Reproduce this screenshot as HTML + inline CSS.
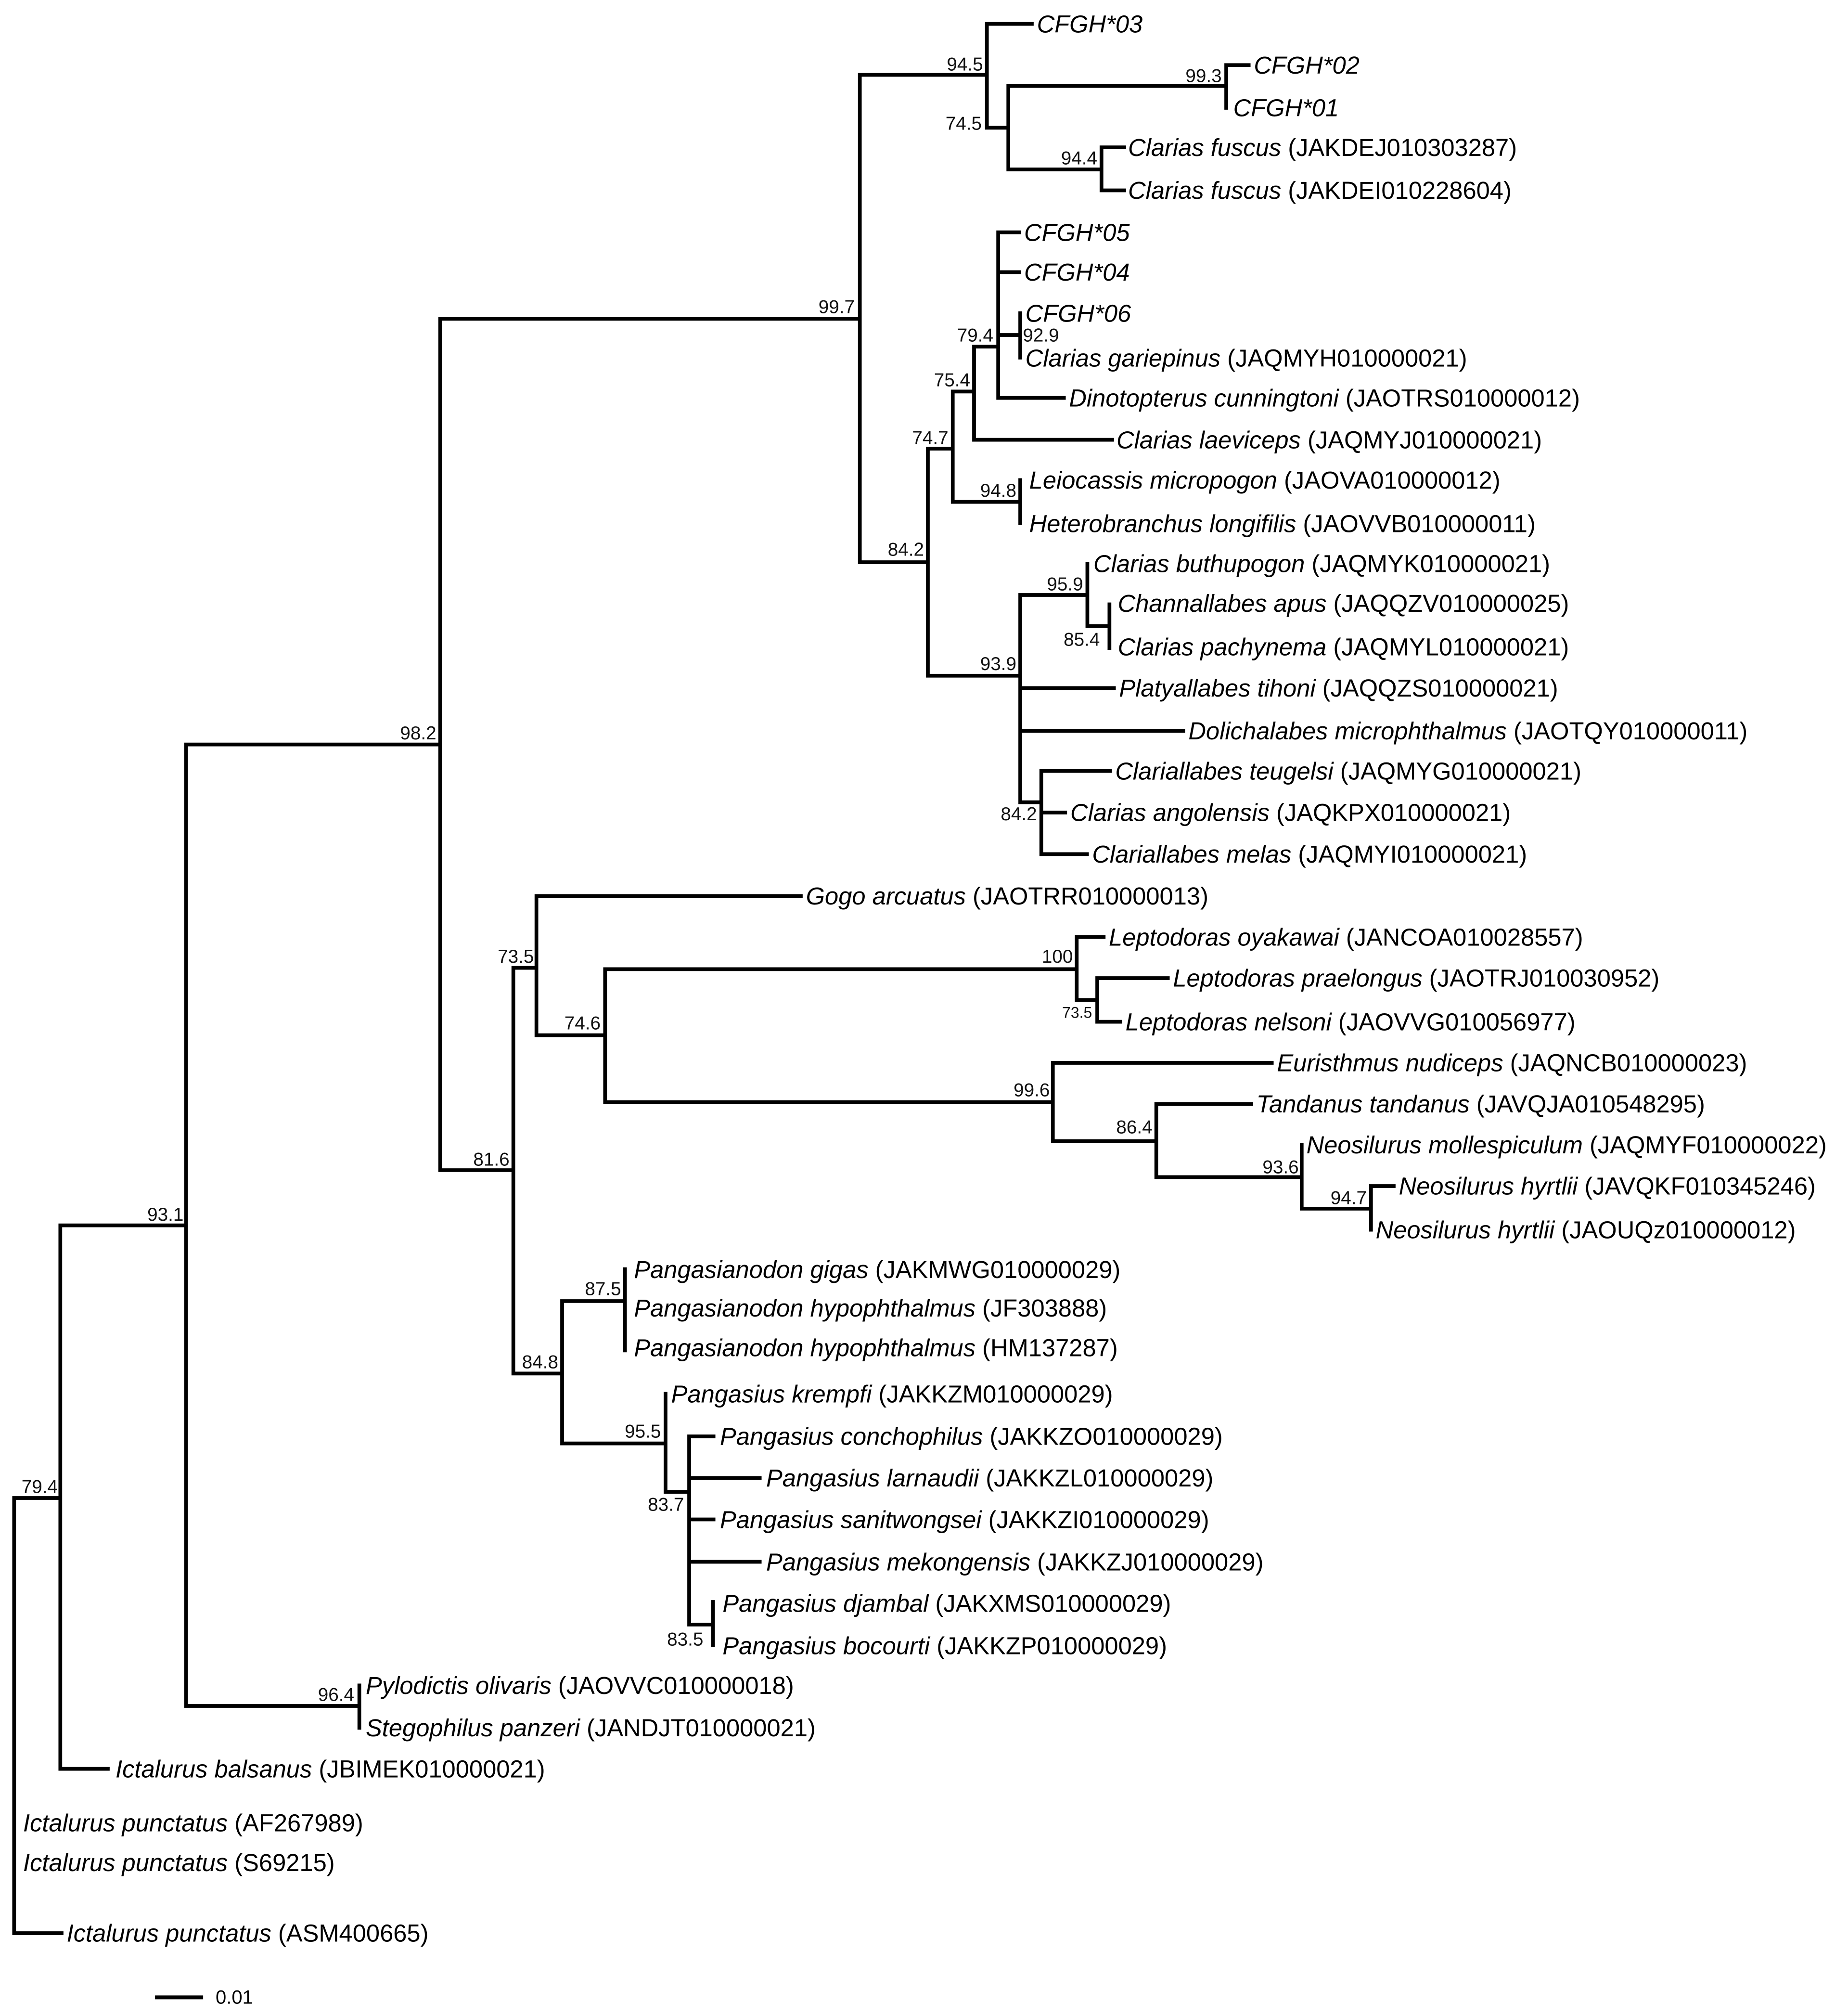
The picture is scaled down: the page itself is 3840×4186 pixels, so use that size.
<!DOCTYPE html>
<html><head><meta charset="utf-8"><style>
html,body{margin:0;padding:0;background:#fff;}
svg{display:block;}
.t{font-family:"Liberation Sans",Arial,sans-serif;font-size:19px;font-style:italic;fill:#000;}
.t tspan{font-style:normal;}
.b{font-family:"Liberation Sans",Arial,sans-serif;font-size:14.5px;fill:#111;text-anchor:end;}
.s{font-size:12px;}
</style></head><body>
<svg width="3840" height="4186" viewBox="0 0 1440 1569.75" xmlns="http://www.w3.org/2000/svg">
<rect width="1440" height="1570" fill="#fff"/>
<path fill="none" stroke="#000" stroke-width="2.9" stroke-linecap="square" d="
M11 1167V1506 M11 1167H47 M11 1506H48
M47 954.6V1378 M47 954.6H145 M47 1378H84
M145 580V1329 M145 580H343 M145 1329H280 M280 1313V1346
M343 248.3V911.6 M343 248.3H670 M343 911.6H400
M670 58.3V438 M670 58.3H769 M670 438H723
M769 18.6V99.5 M769 18.6H804 M769 99.5H785.7
M785.7 67V132 M785.7 67H955.5 M785.7 132H858.3
M955.5 50.7V84 M955.5 50.7H973
M858.3 114.8V148.3 M858.3 114.8H876 M858.3 148.3H876
M723 349.5V526.4 M723 349.5H742.4 M723 526.4H795
M742.4 305V391 M742.4 305H759 M742.4 391H795
M795 374V407.6
M759 270V342.6 M759 270H777.8 M759 342.6H866.6
M777.8 181V310 M777.8 181H794 M777.8 212H794 M777.8 261H795 M777.8 310H829
M795 244V278.6
M795 463.5V625 M795 463.5H847.3 M795 536H868 M795 569.4H922 M795 625H811.4
M847.3 439.4V487.8 M847.3 487.8H864.5 M864.5 470.8V504.8
M811.4 600.6V665.4 M811.4 600.6H865 M811.4 633H830 M811.4 665.4H847
M400 754V1070 M400 754H418 M400 1070H438
M418 698V806.5 M418 698H624 M418 806.5H471.5
M471.5 755V858.6 M471.5 755H839 M471.5 858.6H820.4
M839 730V779 M839 730H860 M839 779H855
M855 762V796 M855 762H910 M855 796H873
M820.4 828V889 M820.4 828H991 M820.4 889H901
M901 860V917 M901 860H975 M901 917H1014.3
M1014.3 891.8V941.6 M1014.3 941.6H1068.3
M1068.3 924V958 M1068.3 924H1086
M438 1013.6V1124.5 M438 1013.6H487 M438 1124.5H518.6
M487 988.8V1052
M518.6 1085.8V1162.2 M518.6 1162.2H537
M537 1119V1265.6 M537 1119H556 M537 1151.4H592 M537 1183.7H556 M537 1216.7H592 M537 1265.6H555.6
M555.6 1248V1281.6
"/>
<path stroke="#000" stroke-width="3" d="M120.8 1556H158.3"/>
<text x="168" y="1561" font-family="Liberation Sans,Arial,sans-serif" font-size="15">0.01</text>

<g class="t">
<text x="808" y="18.6" dy="0.35em">CFGH*03</text>
<text x="977" y="50.7" dy="0.35em">CFGH*02</text>
<text x="961" y="84" dy="0.35em">CFGH*01</text>
<text x="879" y="114.8" dy="0.35em">Clarias fuscus<tspan> (JAKDEJ010303287)</tspan></text>
<text x="879" y="148.3" dy="0.35em">Clarias fuscus<tspan> (JAKDEI010228604)</tspan></text>
<text x="798" y="181" dy="0.35em">CFGH*05</text>
<text x="798" y="212" dy="0.35em">CFGH*04</text>
<text x="799" y="244" dy="0.35em">CFGH*06</text>
<text x="799" y="279" dy="0.35em">Clarias gariepinus<tspan> (JAQMYH010000021)</tspan></text>
<text x="833" y="310" dy="0.35em">Dinotopterus cunningtoni<tspan> (JAOTRS010000012)</tspan></text>
<text x="870" y="342.6" dy="0.35em">Clarias laeviceps<tspan> (JAQMYJ010000021)</tspan></text>
<text x="802" y="374" dy="0.35em">Leiocassis micropogon<tspan> (JAOVA010000012)</tspan></text>
<text x="802" y="408" dy="0.35em">Heterobranchus longifilis<tspan> (JAOVVB010000011)</tspan></text>
<text x="852" y="439" dy="0.35em">Clarias buthupogon<tspan> (JAQMYK010000021)</tspan></text>
<text x="871" y="470" dy="0.35em">Channallabes apus<tspan> (JAQQZV010000025)</tspan></text>
<text x="871" y="504" dy="0.35em">Clarias pachynema<tspan> (JAQMYL010000021)</tspan></text>
<text x="872" y="536" dy="0.35em">Platyallabes tihoni<tspan> (JAQQZS010000021)</tspan></text>
<text x="926" y="569.4" dy="0.35em">Dolichalabes microphthalmus<tspan> (JAOTQY010000011)</tspan></text>
<text x="869" y="600.6" dy="0.35em">Clariallabes teugelsi<tspan> (JAQMYG010000021)</tspan></text>
<text x="834" y="633" dy="0.35em">Clarias angolensis<tspan> (JAQKPX010000021)</tspan></text>
<text x="851" y="665.4" dy="0.35em">Clariallabes melas<tspan> (JAQMYI010000021)</tspan></text>
<text x="628" y="698" dy="0.35em">Gogo arcuatus<tspan> (JAOTRR010000013)</tspan></text>
<text x="864" y="730" dy="0.35em">Leptodoras oyakawai<tspan> (JANCOA010028557)</tspan></text>
<text x="914" y="762" dy="0.35em">Leptodoras praelongus<tspan> (JAOTRJ010030952)</tspan></text>
<text x="877" y="796" dy="0.35em">Leptodoras nelsoni<tspan> (JAOVVG010056977)</tspan></text>
<text x="995" y="828" dy="0.35em">Euristhmus nudiceps<tspan> (JAQNCB010000023)</tspan></text>
<text x="979" y="860" dy="0.35em">Tandanus tandanus<tspan> (JAVQJA010548295)</tspan></text>
<text x="1018" y="891.8" dy="0.35em">Neosilurus mollespiculum<tspan> (JAQMYF010000022)</tspan></text>
<text x="1090" y="924" dy="0.35em">Neosilurus hyrtlii<tspan> (JAVQKF010345246)</tspan></text>
<text x="1072" y="958" dy="0.35em">Neosilurus hyrtlii<tspan> (JAOUQz010000012)</tspan></text>
<text x="494" y="989" dy="0.35em">Pangasianodon gigas<tspan> (JAKMWG010000029)</tspan></text>
<text x="494" y="1019" dy="0.35em">Pangasianodon hypophthalmus<tspan> (JF303888)</tspan></text>
<text x="494" y="1050" dy="0.35em">Pangasianodon hypophthalmus<tspan> (HM137287)</tspan></text>
<text x="523" y="1086" dy="0.35em">Pangasius krempfi<tspan> (JAKKZM010000029)</tspan></text>
<text x="561" y="1119" dy="0.35em">Pangasius conchophilus<tspan> (JAKKZO010000029)</tspan></text>
<text x="597" y="1151.4" dy="0.35em">Pangasius larnaudii<tspan> (JAKKZL010000029)</tspan></text>
<text x="561" y="1183.7" dy="0.35em">Pangasius sanitwongsei<tspan> (JAKKZI010000029)</tspan></text>
<text x="597" y="1216.7" dy="0.35em">Pangasius mekongensis<tspan> (JAKKZJ010000029)</tspan></text>
<text x="563" y="1249" dy="0.35em">Pangasius djambal<tspan> (JAKXMS010000029)</tspan></text>
<text x="563" y="1282" dy="0.35em">Pangasius bocourti<tspan> (JAKKZP010000029)</tspan></text>
<text x="285" y="1313" dy="0.35em">Pylodictis olivaris<tspan> (JAOVVC010000018)</tspan></text>
<text x="285" y="1346" dy="0.35em">Stegophilus panzeri<tspan> (JANDJT010000021)</tspan></text>
<text x="90" y="1378" dy="0.35em">Ictalurus balsanus<tspan> (JBIMEK010000021)</tspan></text>
<text x="18" y="1420" dy="0.35em">Ictalurus punctatus<tspan> (AF267989)</tspan></text>
<text x="18" y="1451" dy="0.35em">Ictalurus punctatus<tspan> (S69215)</tspan></text>
<text x="52" y="1506" dy="0.35em">Ictalurus punctatus<tspan> (ASM400665)</tspan></text>
</g>

<g class="b">
<text x="766" y="55">94.5</text>
<text x="765" y="101">74.5</text>
<text x="952" y="64">99.3</text>
<text x="855" y="128">94.4</text>
<text x="666" y="244">99.7</text>
<text x="774" y="266">79.4</text>
<text x="797" y="266" text-anchor="start">92.9</text>
<text x="756" y="301">75.4</text>
<text x="739" y="346">74.7</text>
<text x="792" y="387">94.8</text>
<text x="720" y="433">84.2</text>
<text x="844" y="460">95.9</text>
<text x="857" y="503">85.4</text>
<text x="792" y="522">93.9</text>
<text x="808" y="639">84.2</text>
<text x="340" y="576">98.2</text>
<text x="416" y="750">73.5</text>
<text x="836" y="750">100</text>
<text x="851" y="793" class="b s">73.5</text>
<text x="468" y="802">74.6</text>
<text x="818" y="854">99.6</text>
<text x="898" y="883">86.4</text>
<text x="397" y="908">81.6</text>
<text x="1012" y="914">93.6</text>
<text x="1065" y="938">94.7</text>
<text x="143" y="951">93.1</text>
<text x="484" y="1009">87.5</text>
<text x="435" y="1066">84.8</text>
<text x="515" y="1120">95.5</text>
<text x="533" y="1177">83.7</text>
<text x="548" y="1282">83.5</text>
<text x="45" y="1163">79.4</text>
<text x="276" y="1325">96.4</text>
</g>
</svg>
</body></html>
